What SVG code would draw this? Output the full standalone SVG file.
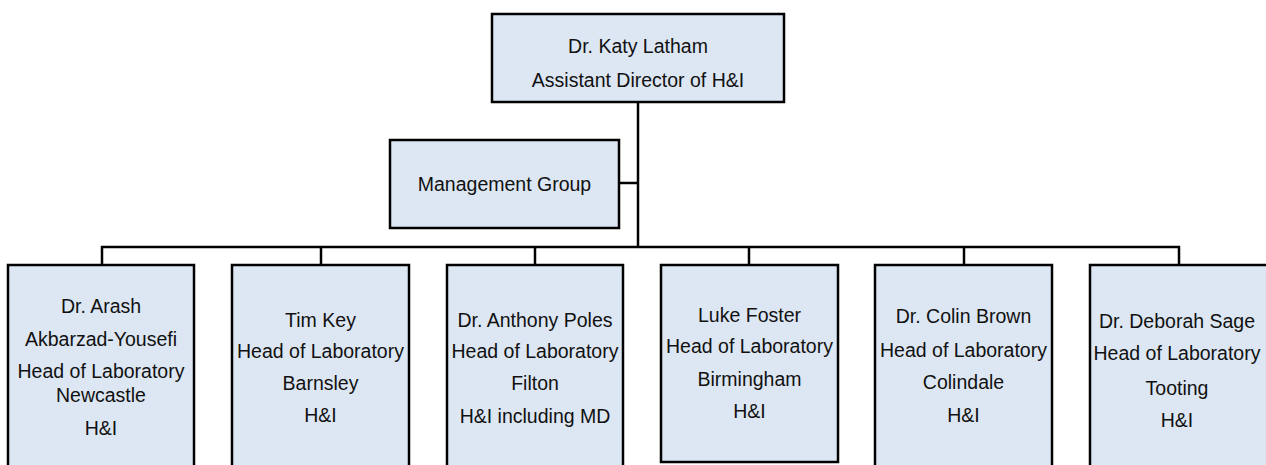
<svg xmlns="http://www.w3.org/2000/svg" width="1266" height="465" viewBox="0 0 1266 465">
<style>
.box{fill:#dde7f3;stroke:#000;stroke-width:2.5}
.t{font-family:"Liberation Sans",Arial,sans-serif;font-size:19.5px;fill:#111;text-anchor:middle}
.c{stroke:#000;stroke-width:2.5;fill:none}
</style>
<rect x="0" y="0" width="1266" height="465" fill="#fff"/>
<g id="connectors">
<line class="c" x1="638" y1="102" x2="638" y2="248" stroke-width="3.5"/>
<line class="c" x1="619" y1="183" x2="638" y2="183" stroke-width="2"/>
<polyline class="c" points="102,265 102,247 1179,247 1179,265"/>
<line class="c" x1="321" y1="247" x2="321" y2="265"/>
<line class="c" x1="535" y1="247" x2="535" y2="265"/>
<line class="c" x1="749" y1="247" x2="749" y2="265"/>
<line class="c" x1="964" y1="247" x2="964" y2="265"/>
</g>
<g id="director">
<rect class="box" x="492" y="14" width="292" height="88" stroke-width="3"/>
<text class="t" x="638" y="53">Dr. Katy Latham</text>
<text class="t" x="638" y="87">Assistant Director of H&amp;I</text>
</g>
<g id="management">
<rect class="box" x="390" y="140" width="229" height="88"/>
<text class="t" x="504.5" y="191">Management Group</text>
</g>
<g id="newcastle">
<rect class="box" x="8" y="265" width="186" height="220"/>
<text class="t" x="101" y="313">Dr. Arash</text>
<text class="t" x="101" y="346">Akbarzad-Yousefi</text>
<text class="t" x="101" y="378">Head of Laboratory</text>
<text class="t" x="101" y="402">Newcastle</text>
<text class="t" x="101" y="435">H&amp;I</text>
</g>
<g id="barnsley">
<rect class="box" x="232" y="265" width="177" height="220"/>
<text class="t" x="320.5" y="327">Tim Key</text>
<text class="t" x="320.5" y="358">Head of Laboratory</text>
<text class="t" x="320.5" y="390">Barnsley</text>
<text class="t" x="320.5" y="422">H&amp;I</text>
</g>
<g id="filton">
<rect class="box" x="447" y="265" width="176" height="220"/>
<text class="t" x="535" y="327">Dr. Anthony Poles</text>
<text class="t" x="535" y="358">Head of Laboratory</text>
<text class="t" x="535" y="390">Filton</text>
<text class="t" x="535" y="423">H&amp;I including MD</text>
</g>
<g id="birmingham">
<rect class="box" x="661" y="265" width="177" height="197"/>
<text class="t" x="749.5" y="322">Luke Foster</text>
<text class="t" x="749.5" y="353">Head of Laboratory</text>
<text class="t" x="749.5" y="386">Birmingham</text>
<text class="t" x="749.5" y="418">H&amp;I</text>
</g>
<g id="colindale">
<rect class="box" x="875" y="265" width="177" height="220"/>
<text class="t" x="963.5" y="323">Dr. Colin Brown</text>
<text class="t" x="963.5" y="357">Head of Laboratory</text>
<text class="t" x="963.5" y="389">Colindale</text>
<text class="t" x="963.5" y="422">H&amp;I</text>
</g>
<g id="tooting">
<rect class="box" x="1090" y="265" width="190" height="220"/>
<text class="t" x="1177" y="328">Dr. Deborah Sage</text>
<text class="t" x="1177" y="360">Head of Laboratory</text>
<text class="t" x="1177" y="395">Tooting</text>
<text class="t" x="1177" y="427">H&amp;I</text>
</g>
</svg>
